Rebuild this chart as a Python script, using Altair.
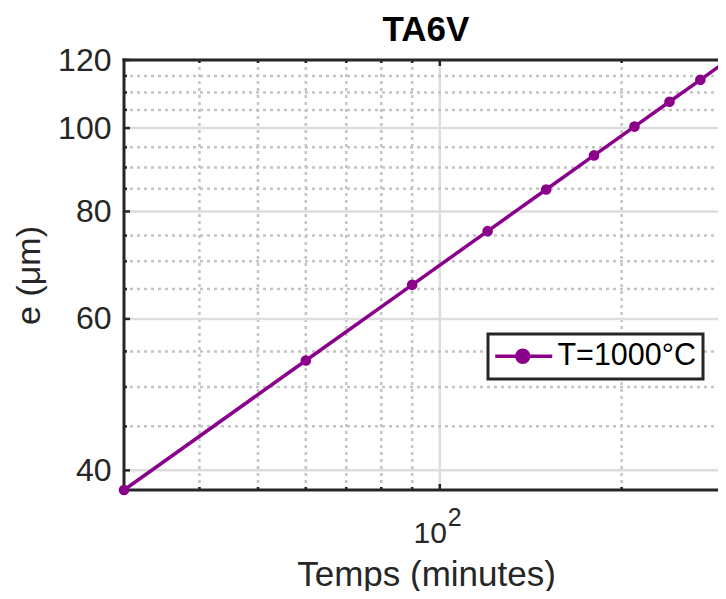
import altair as alt
import pandas as pd

# ---- data ----
temps = [30, 60, 90, 120, 150, 180, 210, 240, 270, 300]          # minutes
epaisseur = [37.95, 53.67, 65.73, 75.89, 84.85, 92.95, 100.4, 107.3, 113.8, 120.0]  # µm
serie = "T=1000°C"

x_major = [100]
x_minor = [40, 50, 60, 70, 80, 90, 200]
y_major = [40, 60, 80, 100, 120]
y_minor = [45, 50, 55, 65, 70, 75, 85, 90, 95, 105, 110, 115]

PURPLE = "#8B008B"
AX = "#262626"
FONT = "Liberation Sans"
W, H = 604, 430

df = pd.DataFrame({"t": temps, "e": epaisseur, "serie": [serie] * len(temps)})
xmaj = pd.DataFrame({"t": x_major})
xmin = pd.DataFrame({"t": x_minor})
ymaj = pd.DataFrame({"e": y_major})
ymin = pd.DataFrame({"e": y_minor})
xlab = pd.DataFrame({"t": x_major, "base": ["10"], "sup": ["2"]})
one = pd.DataFrame({"k": [0]})

xs = alt.Scale(type="log", domain=[temps[0], temps[-1]], nice=False)
ys = alt.Scale(type="log", domain=[min(epaisseur), max(epaisseur)], nice=False)

xaxis = alt.Axis(values=x_major, labels=False, ticks=False, domain=False, grid=False,
                 title="Temps (minutes)", titleFont=FONT, titleFontSize=35,
                 titleFontWeight="normal", titleColor=AX, titlePadding=67)
yaxis = alt.Axis(values=y_major, format="d", ticks=False, domain=False, grid=False,
                 labelFont=FONT, labelFontSize=32, labelColor=AX, labelPadding=13,
                 title="e (μm)", titleFont=FONT, titleFontSize=34,
                 titleFontWeight="normal", titleColor=AX, titlePadding=11)

X = alt.X("t:Q", scale=xs, axis=xaxis)
Y = alt.Y("e:Q", scale=ys, axis=yaxis)

legend = alt.Legend(
    title=None, orient="none", legendX=364, legendY=274,
    fillColor="white", strokeColor=AX, padding=7, cornerRadius=0,
    columnPadding=0, columns=1,
    labelFont=FONT, labelFontSize=30.5, labelColor="black", labelAlign="right",
    labelOffset=170.5, labelLimit=400,
    symbolType="M-2.5,0H7M1.083,0A1,1 0 1,0 3.083,0A1,1 0 1,0 1.083,0Z",
    symbolSize=144, symbolStrokeWidth=3.5, symbolStrokeColor=PURPLE,
    symbolFillColor=PURPLE, symbolOpacity=1,
)
color = alt.Color("serie:N", scale=alt.Scale(domain=[serie], range=[PURPLE]), legend=legend)

grid_minor_x = alt.Chart(xmin).mark_rule(color="#c4c4c4", strokeWidth=2.5, strokeDash=[3, 4]).encode(x=X)
grid_major_x = alt.Chart(xmaj).mark_rule(color="#dddddd", strokeWidth=2.5).encode(x=X)
grid_minor_y = alt.Chart(ymin).mark_rule(color="#c4c4c4", strokeWidth=2.5, strokeDash=[3, 4]).encode(y=Y)
grid_major_y = alt.Chart(ymaj).mark_rule(color="#dddddd", strokeWidth=2.5).encode(y=Y)

tk = dict(color=AX, strokeWidth=2.5)
ticks = [
    alt.Chart(xmin).mark_rule(**tk).encode(x=X, y=alt.value(H), y2=alt.value(H - 3)),
    alt.Chart(xmin).mark_rule(**tk).encode(x=X, y=alt.value(0), y2=alt.value(3)),
    alt.Chart(xmaj).mark_rule(**tk).encode(x=X, y=alt.value(H), y2=alt.value(H - 6)),
    alt.Chart(xmaj).mark_rule(**tk).encode(x=X, y=alt.value(0), y2=alt.value(6)),
    alt.Chart(ymin).mark_rule(**tk).encode(y=Y, x=alt.value(0), x2=alt.value(3)),
    alt.Chart(ymin).mark_rule(**tk).encode(y=Y, x=alt.value(W), x2=alt.value(W - 3)),
    alt.Chart(ymaj).mark_rule(**tk).encode(y=Y, x=alt.value(0), x2=alt.value(6)),
    alt.Chart(ymaj).mark_rule(**tk).encode(y=Y, x=alt.value(W), x2=alt.value(W - 6)),
]

sp = dict(color=AX, strokeWidth=3, strokeCap="square")
spines = [
    alt.Chart(one).mark_rule(**sp).encode(x=alt.value(0), y=alt.value(0), y2=alt.value(H)),
    alt.Chart(one).mark_rule(**sp).encode(x=alt.value(0), x2=alt.value(W), y=alt.value(0)),
    alt.Chart(one).mark_rule(**sp).encode(x=alt.value(0), x2=alt.value(W), y=alt.value(H)),
    alt.Chart(one).mark_rule(**sp).encode(x=alt.value(W), y=alt.value(0), y2=alt.value(H)),
]

line = alt.Chart(df).mark_line(strokeWidth=3.5).encode(x=X, y=Y, color=color)
pts = alt.Chart(df).mark_point(filled=True, size=113, opacity=1).encode(x=X, y=Y, color=color)

lab10 = alt.Chart(xlab).mark_text(align="right", baseline="alphabetic", dx=7, fontSize=30,
                                  font=FONT, color=AX).encode(x=X, y=alt.value(H + 53), text="base:N")
lab2 = alt.Chart(xlab).mark_text(align="left", baseline="alphabetic", dx=8, fontSize=25,
                                 font=FONT, color=AX).encode(x=X, y=alt.value(H + 36), text="sup:N")

chart = alt.layer(
    grid_minor_x, grid_major_x, grid_minor_y, grid_major_y, *ticks, *spines,
    line, pts, lab10, lab2
).properties(
    width=W, height=H,
    background="white",
    title=alt.TitleParams("TA6V", font=FONT, fontSize=35, fontWeight="bold", color="black",
                          anchor="middle", frame="group", offset=-4),
    autosize=alt.AutoSizeParams(type="none"),
    padding={"left": 116, "top": 52, "right": -10, "bottom": 101},
).configure_view(stroke=None).configure_legend(strokeWidth=3)

chart.save("out.html", embed_options={"renderer": "svg", "actions": False})
